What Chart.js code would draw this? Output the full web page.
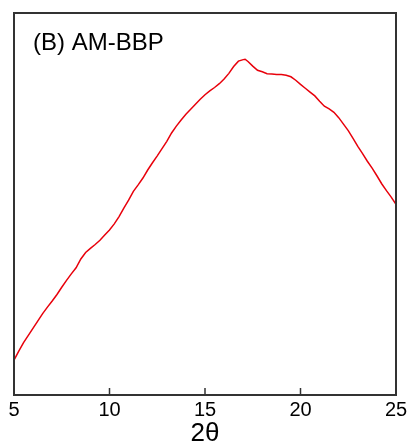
<!DOCTYPE html>
<html>
<head>
<meta charset="utf-8">
<script src="https://cdn.jsdelivr.net/npm/chart.js@4"></script>
<style>
  html, body { margin: 0; padding: 0; background: #fff; }
  #wrap { width: 408px; height: 444px; }
</style>
</head>
<body>
<div id="wrap"><canvas id="xrd"></canvas></div>
<script>
// 2theta positions and intensity (arbitrary units)
const twoTheta = [5.00, 5.25, 5.50, 5.75, 6.00, 6.25, 6.50, 6.75, 7.00, 7.25, 7.50, 7.75, 8.00, 8.25, 8.50, 8.75,
  9.00, 9.25, 9.50, 9.75, 10.00, 10.25, 10.50, 10.75, 11.00, 11.25, 11.50, 11.75, 12.00, 12.25, 12.50, 12.75,
  13.00, 13.25, 13.50, 13.75, 14.00, 14.25, 14.50, 14.75, 15.00, 15.25, 15.50, 15.75, 16.00, 16.25, 16.50, 16.75,
  17.00, 17.10, 17.25, 17.50, 17.75, 18.00, 18.25, 18.50, 18.75, 19.00, 19.25, 19.50, 19.75, 20.00, 20.25, 20.50,
  20.75, 21.00, 21.25, 21.50, 21.75, 22.00, 22.25, 22.50, 22.75, 23.00, 23.25, 23.50, 23.75, 24.00, 24.25, 24.50,
  24.75, 25.00];
const intensity = [9.1, 11.5, 13.7, 15.6, 17.5, 19.4, 21.3, 23.0, 24.6, 26.3, 28.2, 30.0, 31.7, 33.3, 35.6, 37.3,
  38.4, 39.4, 40.5, 41.9, 43.2, 44.8, 46.7, 48.9, 51.0, 53.3, 55.0, 56.8, 58.9, 60.8, 62.6, 64.5,
  66.4, 68.6, 70.4, 72.0, 73.5, 74.8, 76.1, 77.4, 78.6, 79.6, 80.5, 81.5, 82.7, 84.2, 86.0, 87.4,
  87.8, 87.9, 87.3, 86.1, 85.0, 84.6, 84.1, 84.0, 83.9, 83.9, 83.7, 83.3, 82.4, 81.3, 80.3, 79.3,
  78.3, 76.9, 75.6, 74.9, 74.0, 72.6, 70.9, 69.2, 67.2, 65.1, 63.2, 61.2, 59.4, 57.4, 55.3, 53.5,
  51.8, 49.9];
const xTicks = [5, 10, 15, 20, 25];
const panelLabel = '(B) AM-BBP';

// frame, inward ticks and the panel label
const framePlugin = {
  id: 'frame',
  afterDraw(chart) {
    const { ctx, chartArea: a, scales } = chart;
    ctx.save();
    ctx.strokeStyle = '#333';
    ctx.lineWidth = 2;
    ctx.strokeRect(a.left, a.top, a.right - a.left, a.bottom - a.top);
    ctx.lineWidth = 1.5;
    xTicks.forEach(t => {
      const x = scales.x.getPixelForValue(t);
      ctx.beginPath();
      ctx.moveTo(x, a.bottom);
      ctx.lineTo(x, a.bottom - 7);
      ctx.stroke();
    });
    ctx.fillStyle = '#000';
    ctx.font = '24px "Liberation Sans", Arial, sans-serif';
    ctx.textBaseline = 'alphabetic';
    ctx.fillText(panelLabel, a.left + 19, a.top + 37);
    ctx.restore();
  }
};

new Chart(document.getElementById('xrd'), {
  type: 'line',
  data: {
    datasets: [{
      data: twoTheta.map((t, i) => ({ x: t, y: intensity[i] })),
      borderColor: '#e8000b',
      borderWidth: 1.5,
      pointRadius: 0,
      tension: 0,
      fill: false
    }]
  },
  options: {
    responsive: true,
    maintainAspectRatio: false,
    animation: false,
    layout: { padding: { left: 14, right: 12, top: 13, bottom: 0 } },
    plugins: { legend: { display: false }, tooltip: { enabled: false } },
    scales: {
      x: {
        type: 'linear',
        min: 5,
        max: 25,
        afterBuildTicks: scale => { scale.ticks = xTicks.map(v => ({ value: v })); },
        afterFit: scale => {
          scale.paddingLeft = 0;
          scale.paddingRight = 0;
          scale.height = 49;
        },
        grid: { display: false, drawTicks: false },
        border: { display: false },
        ticks: {
          color: '#000',
          padding: 5,
          maxRotation: 0,
          font: { family: '"Liberation Sans", Arial, sans-serif', size: 20, lineHeight: 1 }
        },
        title: {
          display: true,
          text: '2θ',
          color: '#000',
          padding: { top: 0, bottom: 0 },
          font: { family: '"Liberation Sans", Arial, sans-serif', size: 26, lineHeight: 0.8 }
        }
      },
      y: { display: false, min: 0, max: 100 }
    }
  },
  plugins: [framePlugin]
});
</script>
</body>
</html>
